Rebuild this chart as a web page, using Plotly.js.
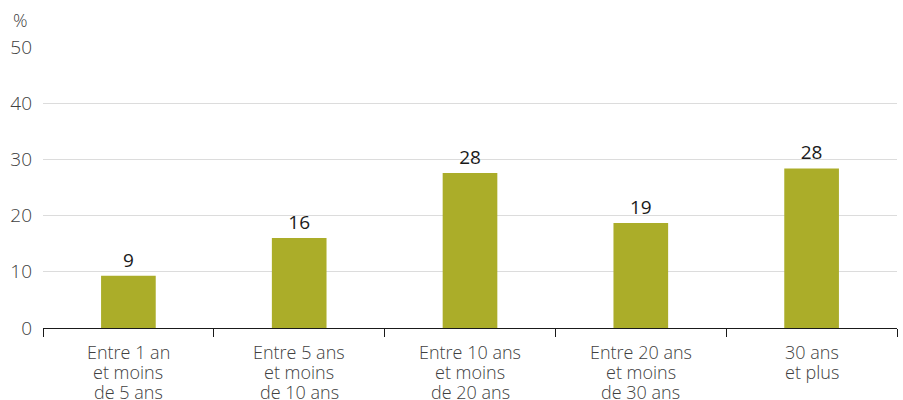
<!DOCTYPE html>
<html><head><meta charset="utf-8">
<script src="https://cdn.plot.ly/plotly-3.0.1.min.js"></script>
<style>html,body{margin:0;padding:0;background:#fff}#chart{width:903px;height:400px}</style>
</head><body><div id="chart"></div>
<script>
const categories = ["Entre 1 an<br>et moins<br>de 5 ans","Entre 5 ans<br>et moins<br>de 10 ans","Entre 10 ans<br>et moins<br>de 20 ans","Entre 20 ans<br>et moins<br>de 30 ans","30 ans<br>et plus"];
const values = [9.3, 16.0, 27.6, 18.7, 28.4];
const yTicks = [0, 10, 20, 30, 40, 50];

const FONT = 'Open Sans';
const W = 300;
const trace = {
  type: 'bar', x: categories, y: values,
  marker: {color: '#abad29'},
  width: 0.32,
  text: values.map(v => Math.round(v).toString()),
  textposition: 'outside', cliponaxis: false,
  textfont: {family: FONT, size: 19, color: '#1a1a1a', weight: 400},
  hoverinfo: 'none'
};

// category labels drawn line by line (20 px line spacing like the reference)
const labelAnnotations = [];
categories.forEach(cat => {
  cat.split('<br>').forEach((line, i) => {
    labelAnnotations.push({
      text: line, xref: 'x', yref: 'paper', x: cat, y: 0,
      xanchor: 'center', yanchor: 'middle', yshift: -24 - 20 * i,
      showarrow: false, font: {family: FONT, size: 18, color: '#404040', weight: W}
    });
  });
});

const layout = {
  width: 903, height: 400,
  margin: {l: 43, r: 6, t: 47, b: 72},
  paper_bgcolor: '#fff', plot_bgcolor: '#fff',
  font: {family: FONT, size: 18, color: '#404040', weight: W},
  showlegend: false,
  xaxis: {
    type: 'category', showline: true, linecolor: '#1a1a1a', linewidth: 1,
    ticks: 'outside', tickson: 'boundaries', ticklen: 8, tickcolor: '#1a1a1a',
    showgrid: false, showticklabels: false, fixedrange: true
  },
  yaxis: {
    range: [0, 50], tickvals: yTicks, ticktext: yTicks.map(String),
    showgrid: true, gridcolor: '#dcdcdc', gridwidth: 1, zeroline: false,
    ticks: '', ticklabelstandoff: 10, tickfont: {size: 19, color: '#404040', weight: W}, fixedrange: true
  },
  annotations: labelAnnotations.concat([{text: '%', xref: 'paper', yref: 'paper', x: -0.038, y: 1.0, yshift: 27,
    xanchor: 'left', yanchor: 'middle', showarrow: false, font: {size: 18, color: '#404040', weight: W}}])
};
Plotly.newPlot('chart', [trace], layout, {staticPlot: true});
</script></body></html>
